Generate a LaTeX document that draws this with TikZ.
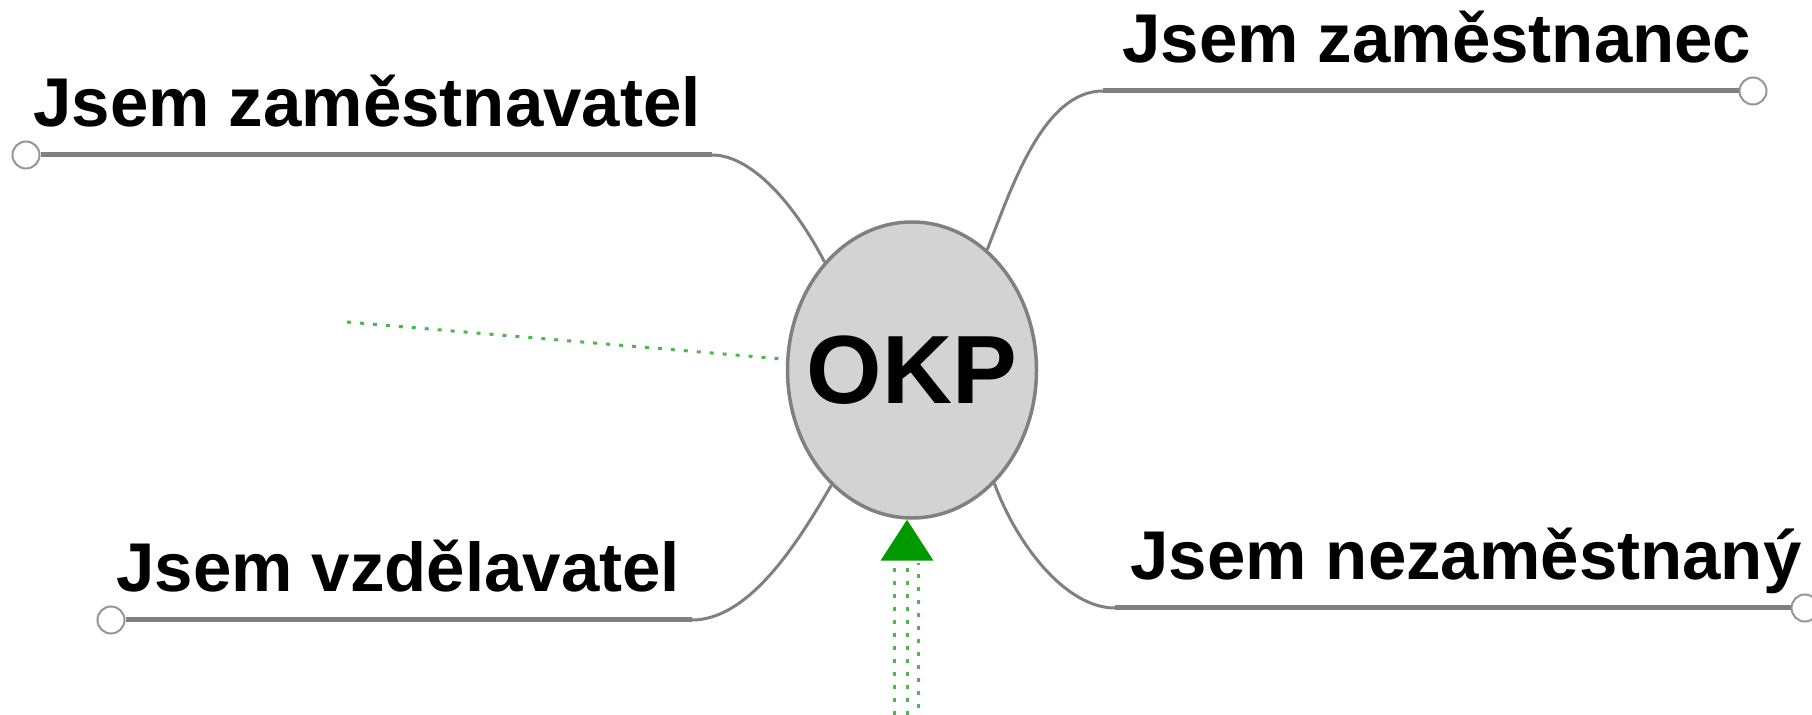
\documentclass[tikz,border=0pt]{standalone}
\usepackage{fontspec}
\setmainfont{Liberation Sans}
\usetikzlibrary{shapes.geometric,arrows.meta}
\definecolor{branchgray}{RGB}{128,128,128}
\definecolor{knobgray}{RGB}{150,150,150}
\definecolor{okpfill}{RGB}{211,211,211}
\definecolor{hintgreen}{RGB}{0,153,0}

\begin{document}
\begin{tikzpicture}[x=0.5pt,y=-0.5pt,
  okp/.style={ellipse,draw=branchgray,line width=1.75pt,fill=okpfill,minimum width=124.5pt,minimum height=148pt,inner sep=0pt,font=\fontsize{48.5}{58}\selectfont\bfseries},
  leaf/.style={anchor=base west,inner sep=0pt,font=\fontsize{34.5}{41}\selectfont\bfseries},
  knob/.style={circle,draw=knobgray,line width=1pt,fill=white,minimum size=13.5pt,inner sep=0pt},
  stem/.style={draw=branchgray,line width=2.5pt},
  twig/.style={draw=branchgray,line width=1.5pt},
  hint/.style={draw=hintgreen!70,line width=1.5pt,dash pattern=on 2pt off 4.5pt}]
\useasboundingbox (0,0) rectangle (1812,715);

% 中心椭圆
\node[okp] (okp) at (912,370) {\makebox[0pt]{OKP}};

% 分支文字
\node[leaf] (zamestnavatel) at (33,127) {Jsem zaměstnavatel};
\node[leaf] (zamestnanec) at (1122,63) {Jsem zaměstnanec};
\node[leaf] (vzdelavatel) at (116,592) {Jsem vzdělavatel};
\node[leaf] (nezamestnany) at (1130,580) {Jsem nezaměstnaný};

% 分支线: 小圆 -- 横线 -- 曲线到椭圆
\foreach \k/\kx/\ex/\y/\cx/\dx/\dy/\a in {zl/26/712/155/752/795/205/129, zr/1753/1103/91/1043/1012/187/58, vl/111/692/620/752/802/535/235, nr/1805/1115/608/1065/1016/543/306}{
  \node[knob] (\k) at (\kx,\y) {};
  \coordinate (\k-end) at (\ex,\y);
  \draw[stem] (\k) -- (\k-end);
  \draw[twig] (\k-end) .. controls (\cx,\y) and (\dx,\dy) .. (okp.\a);
}

% 绿色虚线
\coordinate (hint) at (347,322);
\draw[hint] (hint) -- (okp);

% 下方绿色箭头
\coordinate (feed) at (907,715);
\foreach \dx/\ph in {-13/0pt,11/3pt}{
  \draw[hint,dash phase=\ph] ([xshift=\dx*0.5pt]feed) -- ++(0,-152);
}
\draw[hint,-{Triangle[length=20.5pt,width=26.5pt,color=hintgreen,fill=hintgreen,line width=0pt]}] (feed) -- (feed |- okp.south);
\end{tikzpicture}
\end{document}
